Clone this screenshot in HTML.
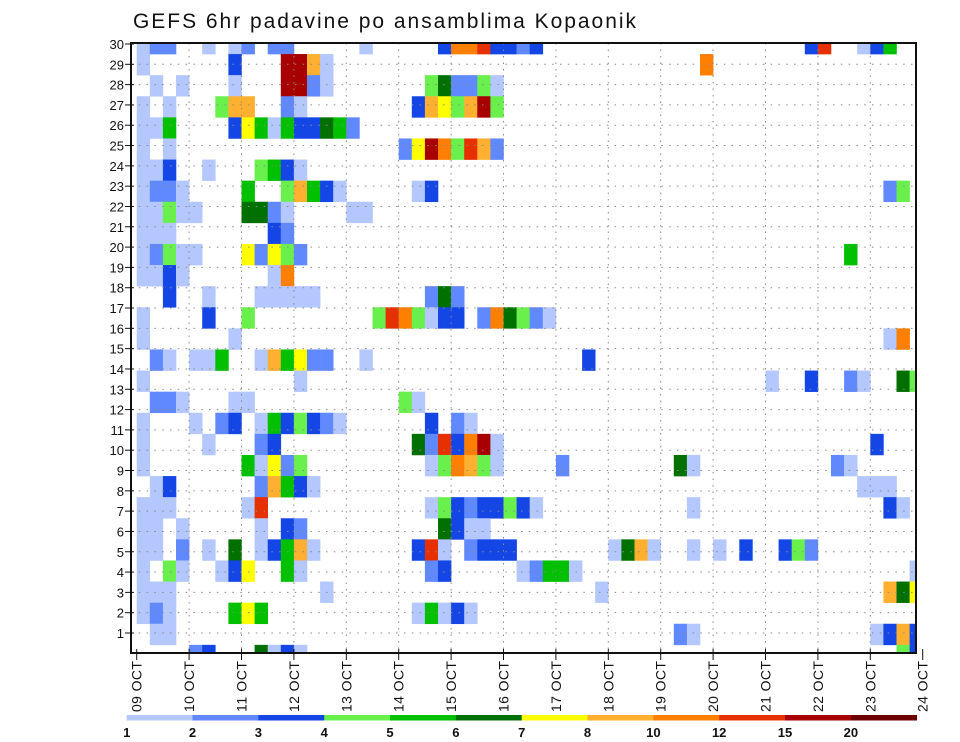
<!DOCTYPE html>
<html><head><meta charset="utf-8"><title>GEFS 6hr padavine po ansamblima Kopaonik</title>
<style>
html,body{margin:0;padding:0;background:#fff;}
svg{display:block;font-family:"Liberation Sans",sans-serif;}
</style></head>
<body>
<svg id="chart" width="960" height="742" viewBox="0 0 960 742" xmlns="http://www.w3.org/2000/svg">
<rect x="0" y="0" width="960" height="742" fill="#fff"/>
<text x="133" y="28" font-size="21" textLength="503" fill="#111">GEFS 6hr padavine po ansamblima Kopaonik</text>
<g id="cells"></g>
<g id="grid"></g>
<g id="axes"></g>
<g id="legend"></g>
</svg>
<script>
// ---- data ----
// Day tick labels (x axis)
const dayLabels = ["09 OCT","10 OCT","11 OCT","12 OCT","13 OCT","14 OCT","15 OCT","16 OCT","17 OCT","18 OCT","19 OCT","20 OCT","21 OCT","22 OCT","23 OCT","24 OCT"];
// Member tick labels (y axis)
const memberTicks = [1,2,3,4,5,6,7,8,9,10,11,12,13,14,15,16,17,18,19,20,21,22,23,24,25,26,27,28,29,30];
// Legend level boundaries (mm)
const levels = [1,2,3,4,5,6,7,8,10,12,15,20];
const levelColors = ["#b4c7ff","#6088ff","#1446e6","#6af04c","#00c000","#007000","#ffff00","#ffb030","#ff7f00","#e63000","#a80000","#6e0000"];
// Precip class per 6h step (0=below 1mm, 1..12 = legend bin index+1, a=10,b=11,c=12), one row per ensemble member (top to bottom), 4 steps per day
const memberRows = [
"122. .1.1 2.22 .... .1.. ...3 99a3 323. .... .... .... .... ...3 a..1 35..",
"1... ...3 ...b b81. .... .... .... .... .... .... ...9 .... .... .... ....",
".1.1 ...1 ...b b21. .... ..46 2241 .... .... .... .... .... .... .... ....",
"1.1. ..48 8..2 1... .... .387 48b4 .... .... .... .... .... .... .... ....",
"115. ...3 7515 3365 2... .... .... .... .... .... .... .... .... .... ....",
"1.1. .... .... .... .... 27b9 4a82 .... .... .... .... .... .... .... ....",
"113. .1.. .453 1... .... .... .... .... .... .... .... .... .... .... ....",
"1221 .... 5..4 8531 .... .13. .... .... .... .... .... .... .... .... .24.",
"1141 1... 6621 .... 11.. .... .... .... .... .... .... .... .... .... ....",
"111. .... ..32 .... .... .... .... .... .... .... .... .... .... .... ....",
"1241 1... 7274 2... .... .... .... .... .... .... .... .... .... ..5. ....",
"1131 .... ..19 .... .... .... .... .... .... .... .... .... .... .... ....",
"..3. .1.. .111 11.. .... ..26 2... .... .... .... .... .... .... .... ....",
"1... .3.. 4... .... ..4a 9413 3.29 6421 .... .... .... .... .... .... ....",
"1... ...1 .... .... .... .... .... .... .... .... .... .... .... .... .19.",
".21. 115. .185 722. .1.. .... .... .... ..3. .... .... .... .... .... ....",
"1... .... .... 1... .... .... .... .... .... .... .... .... 1..3 ..21 ..64",
".221 ...1 1... .... .... 41.. .... .... .... .... .... .... .... .... ....",
"1... 1.23 .153 4321 .... ..3. 21.. .... .... .... .... .... .... .... ....",
"1... .1.. .23. .... .... .62a 39b1 .... .... .... .... .... .... .... 3...",
"1... .... 5172 4... .... ..14 9841 .... 2... .... .61. .... .... .21. ....",
".13. .... .285 31.. .... .... .... .... .... .... .... .... .... ...1 11..",
"111. .... 1a.. .... .... ..14 3233 431. .... .... ..1. .... .... .... .31.",
"11.1 .... .1.3 2... .... ...6 311. .... .... .... .... .... .... .... ....",
"11.2 .1.6 .135 81.. .... .3a1 .233 3... .... 1681 ..1. 1.3. .342 .... ....",
"1.41 ..13 7..5 1... .... ..23 .... .125 51.. .... .... .... .... .... ...1",
"111. .... .... ..1. .... .... .... .... ...1 .... .... .... .... .... .867",
"121. ...5 75.. .... .... .151 31.. .... .... .... .... .... .... .... ....",
".11. .... .... .... .... .... .... .... .... .... .21. .... .... .... 1383",
".... 23.. .613 1... .... .... .... .... .... .... .... .... .... .... ..43"
];

// ---- layout ----
const NS = "http://www.w3.org/2000/svg";
const frame = {l:131, r:916, t:43, b:653};
const day0X = 136.7, dayW = 52.4, stepW = dayW/4;
const rowC0 = 43.5, rowH = 21.1;
function xDay(d){ return day0X + d*dayW; }
function xStep(s){ return day0X + s*stepW; }
function yRowCenter(i){ return rowC0 + i*rowH; }
function yMember(k){ return 653.3 - k*20.31; }
function mk(tag, attrs, parent){
  const e = document.createElementNS(NS, tag);
  for (const k in attrs) e.setAttribute(k, attrs[k]);
  parent.appendChild(e);
  return e;
}
const svg = document.getElementById('chart');
const cells = document.getElementById('cells');
const grid = document.getElementById('grid');
const axes = document.getElementById('axes');
const legend = document.getElementById('legend');

// clip
const defs = mk('defs', {}, svg);
const cp = mk('clipPath', {id:'plotclip'}, defs);
mk('rect', {x:frame.l, y:frame.t, width:frame.r-frame.l, height:frame.b-frame.t}, cp);
cells.setAttribute('clip-path', 'url(#plotclip)');

// cells
memberRows.forEach((rowStr, i) => {
  const codes = rowStr.replace(/ /g, '');
  for (let s = 0; s < codes.length; s++) {
    const ch = codes[s];
    if (ch === '.') continue;
    const bin = parseInt(ch, 16) - 1;
    const r = mk('rect', {x:xStep(s).toFixed(2), y:(yRowCenter(i)-rowH/2).toFixed(2), width:(stepW+0.3).toFixed(2), height:(rowH+0.3).toFixed(2), fill:levelColors[bin]}, cells);
    
    
  }
});

// grid
for (let k = 1; k < memberTicks.length; k++) {
  const y = yMember(memberTicks[k-1]);
  const l = mk('line', {x1:frame.l, x2:frame.r, y1:y, y2:y, stroke:'#8a8a8a', 'stroke-width':1, 'stroke-dasharray':'1.5 6.3'}, grid);
  
  
}
for (let d = 1; d < dayLabels.length - 1; d++) {
  const x = xDay(d);
  const l = mk('line', {x1:x, x2:x, y1:frame.t, y2:frame.b, stroke:'#8a8a8a', 'stroke-width':1, 'stroke-dasharray':'1.5 5'}, grid);
  
  
}

// frame
const fr = mk('rect', {x:frame.l, y:frame.t, width:frame.r-frame.l, height:frame.b-frame.t, fill:'none', stroke:'#111', 'stroke-width':2}, axes);



// y ticks & labels
memberTicks.forEach(k => {
  const y = yMember(k);
  const t = mk('line', {x1:frame.l-6, x2:frame.l+3, y1:y, y2:y, stroke:'#111', 'stroke-width':1}, axes);
  
  
  const tx = mk('text', {x:124, y:y+5, 'font-size':13, 'text-anchor':'end', fill:'#111'}, axes);
  tx.textContent = String(k);
  
  
});

// x ticks & labels
dayLabels.forEach((lab, d) => {
  const x = xDay(d);
  const t = mk('line', {x1:x, x2:x, y1:frame.b-4, y2:frame.b+7, stroke:'#111', 'stroke-width':1}, axes);
  
  
  const tx = mk('text', {transform:`translate(${(x+5).toFixed(1)},661) rotate(-90)`, 'font-size':14, 'text-anchor':'end', textLength:51, fill:'#111'}, axes);
  tx.textContent = lab;
  
  
});

// legend
const legL = 126.7, legR = 916.7, legW = (legR - legL)/levels.length;
levelColors.forEach((c, j) => {
  const r = mk('rect', {x:(legL + j*legW).toFixed(2), y:715, width:(legW+0.3).toFixed(2), height:5.5, fill:c}, legend);
  
  
});
levels.forEach((v, j) => {
  const tx = mk('text', {x:(legL + j*legW).toFixed(2), y:737, 'font-size':13, 'font-weight':'bold', 'text-anchor':'middle', fill:'#111'}, legend);
  tx.textContent = String(v);
  
  
});
</script>
</body></html>
